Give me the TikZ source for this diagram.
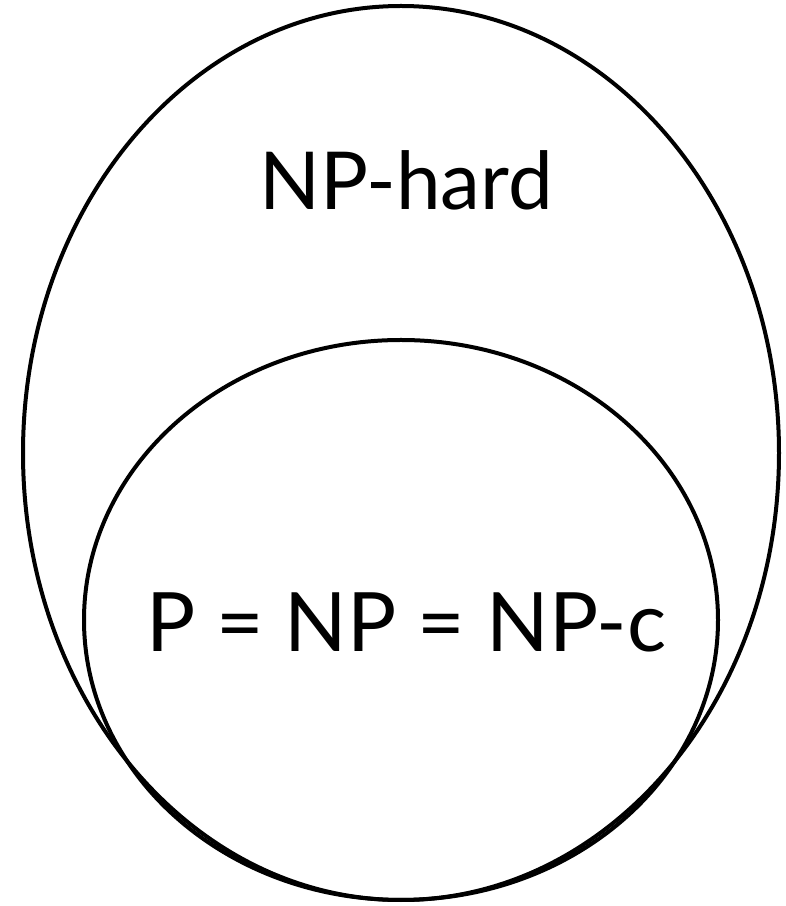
\documentclass[tikz,border=0pt]{standalone}
\usepackage{fontspec}
\setmainfont{Lato}
\usetikzlibrary{positioning,calc}

\begin{document}
\begin{tikzpicture}[
    x=1pt, y=1pt,
    setline/.style={draw, line width=4pt},
    setlabel/.style={inner sep=0pt}
]
\useasboundingbox (0,0) rectangle (786,906);

\draw[setline] (401,453) ellipse [x radius=378, y radius=447];
\draw[setline] (401,286) ellipse [x radius=317, y radius=280];

\node[setlabel, font=\fontsize{80}{84}\selectfont] (hard) at (406,726) {NP-hard};
\node[setlabel, font=\fontsize{82}{86}\selectfont] (inner) at (406,284) {P = NP = NP-c};

\end{tikzpicture}
\end{document}
